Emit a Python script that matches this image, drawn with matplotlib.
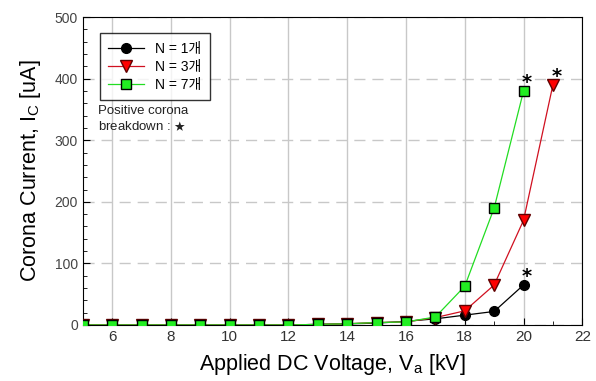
import numpy as np
import matplotlib.pyplot as plt
from matplotlib.ticker import MultipleLocator

plt.rcParams['font.family'] = ['Liberation Sans', 'Noto Sans CJK KR', 'DejaVu Sans']
plt.rcParams['mathtext.fontset'] = 'custom'
plt.rcParams['mathtext.rm'] = 'Liberation Sans'
plt.rcParams['mathtext.it'] = 'Liberation Sans'

voltage = [5, 6, 7, 8, 9, 10, 11, 12, 13, 14, 15, 16, 17, 18, 19, 20, 21]
n1 = [0, 0, 0, 0, 0, 0, 0, 0, 1, 2, 3, 6, 10, 16, 22, 65]
n3 = [0, 0, 0, 0, 0, 0, 0, 0, 1, 2, 4, 5, 12, 23, 65, 170, 390]
n7 = [0, 0, 0, 0, 0, 0, 0, 0, 1, 2, 4, 5, 13, 63, 190, 380]
labels = ['N = 1개', 'N = 3개', 'N = 7개']
# breakdown points (voltage, current)
bd_x = [20, 21, 20]
bd_y = [65, 390, 380]

fig = plt.figure(figsize=(5.96, 3.81), dpi=100)
ax = fig.add_axes([0.139, 0.147, 0.838, 0.808])

ax.plot(voltage[:len(n1)], n1, '-o', color='black', lw=0.9, ms=7,
        mfc='black', mec='black', label=labels[0], zorder=3)
ax.plot(voltage[:len(n3)], n3, '-v', color='#d01020', lw=0.9, ms=8,
        mfc='#ff0000', mec='#600000', label=labels[1], zorder=4)
ax.plot(voltage[:len(n7)], n7, '-s', color='#22dd22', lw=0.9, ms=7,
        mfc='#22ee22', mec='black', label=labels[2], zorder=5)

for x, y in zip(bd_x, bd_y):
    ax.text(x + 0.12, y + 14, '*', fontsize=14, ha='center', va='center',
            family='DejaVu Sans', fontweight='bold')

ax.set_xlim(5, 22)
ax.set_ylim(0, 500)
ax.xaxis.set_minor_locator(MultipleLocator(1))
ax.yaxis.set_major_locator(MultipleLocator(100))
ax.yaxis.set_minor_locator(MultipleLocator(20))
ax.set_xticks([6, 8, 10, 12, 14, 16, 18, 20, 22])
ax.tick_params(which='both', direction='in', top=False, right=False)
ax.tick_params(axis='x', labelsize=11, labelcolor='#333333')
ax.tick_params(axis='y', labelsize=10, labelcolor='#444444')
ax.tick_params(which='major', length=5)
ax.tick_params(which='minor', length=3)

ax.grid(axis='x', which='major', color='#c8c8c8', lw=1.0, ls='-')
ax.grid(axis='y', which='major', color='#c8c8c8', lw=1.0, ls=(0, (8, 5)))
ax.set_axisbelow(True)

ax.set_xlabel('Applied DC Voltage, V$_\\mathregular{a}$ [kV]', fontsize=15.5, labelpad=6)
ax.set_ylabel('Corona Current, I$_\\mathregular{C}$ [uA]', fontsize=15.5, labelpad=8)

leg = ax.legend(loc='upper left', bbox_to_anchor=(0.02, 0.97), fontsize=10,
                frameon=True, fancybox=False, edgecolor='black', handlelength=2.6,
                borderpad=0.6, labelspacing=0.3)
leg.get_frame().set_linewidth(1.0)

ax.text(0.03, 0.715, 'Positive corona\nbreakdown : $\\bigstar$', transform=ax.transAxes,
        fontsize=9.5, va='top', ha='left', color='#222222')

fig.savefig('out.png', dpi=100)
